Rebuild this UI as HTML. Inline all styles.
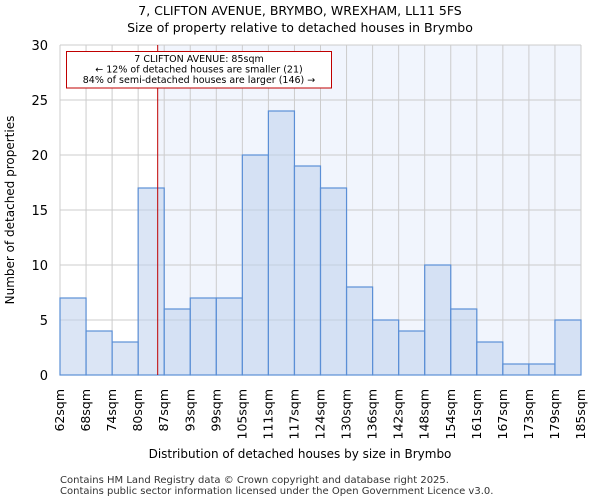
<!DOCTYPE html>
<html><head><meta charset="utf-8"><style>
body{margin:0;background:#fff;font-family:"DejaVu Sans","Liberation Sans",sans-serif}
</style></head><body>
<svg width="600" height="500" xmlns="http://www.w3.org/2000/svg" font-family="DejaVu Sans, Liberation Sans, sans-serif">
<text x="300" y="15" text-anchor="middle" font-size="12.5">7, CLIFTON AVENUE, BRYMBO, WREXHAM, LL11 5FS</text>
<text x="300" y="32" text-anchor="middle" font-size="12.5">Size of property relative to detached houses in Brymbo</text>
<g id="plot"></g>
<text x="300" y="458" text-anchor="middle" font-size="12">Distribution of detached houses by size in Brymbo</text>
<text transform="translate(14,210) rotate(-90)" text-anchor="middle" font-size="12">Number of detached properties</text>
<text x="60" y="483" font-size="10" fill="#333">Contains HM Land Registry data © Crown copyright and database right 2025.</text>
<text x="60" y="494" font-size="10" fill="#333">Contains public sector information licensed under the Open Government Licence v3.0.</text>
</svg>
<script>
const categories=["62sqm","68sqm","74sqm","80sqm","87sqm","93sqm","99sqm","105sqm","111sqm","117sqm","124sqm","130sqm","136sqm","142sqm","148sqm","154sqm","161sqm","167sqm","173sqm","179sqm","185sqm"];
const counts=[7,4,3,17,6,7,7,20,24,19,17,8,5,4,10,6,3,1,1,5];
const yTicks=[0,5,10,15,20,25,30];
const markerBin=3.75;
const NS="http://www.w3.org/2000/svg";
const g=document.getElementById('plot');
const X0=60,X1=581,Y0=375,Y1=45,yMax=30;
const bw=(X1-X0)/counts.length;
const xs=i=>X0+i*bw;
const ys=v=>Y0-(v/yMax)*(Y0-Y1);
function mk(t,a){const e=document.createElementNS(NS,t);for(const k in a)e.setAttribute(k,a[k]);g.appendChild(e);return e;}
const mx=xs(markerBin);
let e=mk('rect',{x:mx,y:Y1,width:X1-mx,height:Y0-Y1,fill:'#f1f5fd'});


for(let i=0;i<=counts.length;i++){e=mk('line',{x1:xs(i),x2:xs(i),y1:Y1,y2:Y0,stroke:'#cccccc','stroke-width':1});

}
yTicks.forEach(t=>{e=mk('line',{x1:X0,x2:X1,y1:ys(t),y2:ys(t),stroke:'#cccccc','stroke-width':1});


e=mk('text',{x:X0-12,y:ys(t)+5,'text-anchor':'end','font-size':13});e.textContent=t;

});
counts.forEach((v,i)=>{e=mk('rect',{x:xs(i),y:ys(v),width:bw,height:Y0-ys(v),fill:'rgba(190,208,236,0.55)',stroke:'#5b8fd6','stroke-width':1.2});

});
categories.forEach((c,i)=>{const x=xs(i)+4;e=mk('text',{transform:`translate(${x},389) rotate(-90)`,'text-anchor':'end','font-size':12.5});e.textContent=c;

});
e=mk('line',{x1:mx,x2:mx,y1:Y1,y2:Y0,stroke:'#c00000','stroke-width':1});


e=mk('rect',{x:66.5,y:51.5,width:265,height:36.5,fill:'#fff',stroke:'#c00000','stroke-width':1});


["7 CLIFTON AVENUE: 85sqm","← 12% of detached houses are smaller (21)","84% of semi-detached houses are larger (146) →"].forEach((s,k)=>{
e=mk('text',{x:199,y:62+k*10.5,'text-anchor':'middle','font-size':9.5});e.textContent=s;

});
</script>
</body></html>
